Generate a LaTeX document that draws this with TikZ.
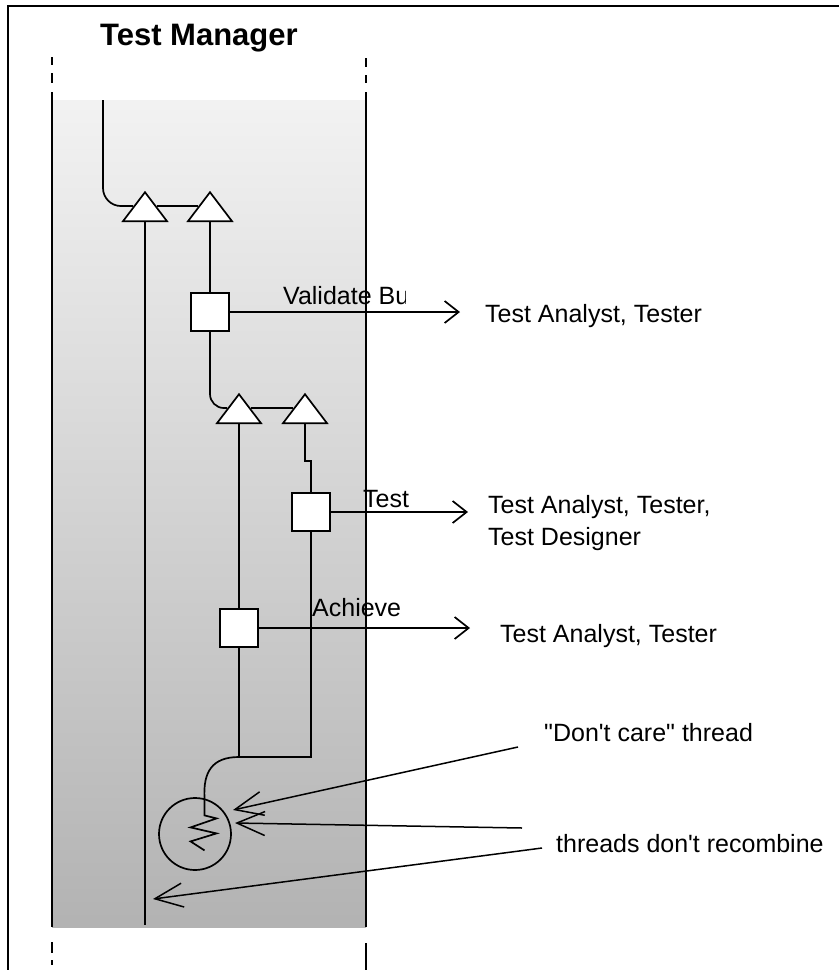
\documentclass[tikz,border=0pt]{standalone}
\usepackage{fontspec}
\setmainfont{Liberation Sans}
\newfontfamily\labfont{Liberation Sans}
\usepackage{tikz}
\usetikzlibrary{shapes.geometric,arrows.meta,calc}
\pgfdeclarelayer{shade}
\pgfdeclarelayer{wires}
\pgfsetlayers{shade,wires,main}
\begin{document}
\begin{tikzpicture}[x=1pt,y=-1pt,
  wire/.style={line width=1.7pt},
  lane/.style={line width=2.4pt},
  tri/.style={draw, fill=white, line width=1.7pt, isosceles triangle,
    isosceles triangle stretches, shape border rotate=90,
    minimum width=44pt, minimum height=29pt, inner sep=0pt, anchor=apex},
  act/.style={draw, fill=white, line width=1.7pt, minimum size=38pt, inner sep=0pt},
  lbl/.style={font=\labfont\fontsize{25}{32}\selectfont, inner sep=0pt, anchor=base west, align=left},
  barr/.style={wire, -{Straight Barb[length=14pt,width=22pt]}},
  carr/.style={line width=1.5pt, -{Straight Barb[length=28pt,width=24pt]}},
]
\useasboundingbox (0,0) rectangle (839,970);
% frame
\draw[line width=1.6pt] (839,6) -- (8,6) -- (8,970);
% lane shading
\begin{pgfonlayer}{shade}
\shade[top color=black!5, bottom color=black!30] (52,100) rectangle (366,927);
\end{pgfonlayer}
% lane borders
\draw[lane] (52,57)--(52,65) (52,73)--(52,83) (52,92)--(52,927) (52,942)--(52,953) (52,960)--(52,965);
\draw[lane] (366,58)--(366,67) (366,75)--(366,83) (366,92)--(366,927) (366,943)--(366,970);

\node[font=\labfont\fontsize{31}{36}\selectfont\bfseries, anchor=base west, inner sep=0pt] (title) at (100,45) {Test Manager};

% synchronisation bars and activities
\node[tri] (t1) at (145,190) {};
\node[tri] (t2) at (210,190) {};
\node[tri] (t3) at (239,392) {};
\node[tri] (t4) at (305,392) {};
\node[act] (b1) at (210,312) {};
\node[act] (b2) at (311,512) {};
\node[act] (b3) at (239,628) {};
\node[draw, circle, line width=1.7pt, minimum size=72pt, inner sep=0pt] (c) at (195,834) {};

\coordinate (start) at (103,100);
\coordinate (J) at (239,757);
\coordinate (endL) at (145,925);

\begin{pgfonlayer}{wires}
\draw[wire, rounded corners=18pt] (start) |- ($(t1.apex)!0.5!(t1.left corner)$);
\draw[wire] ($(t1.apex)!0.5!(t1.right corner)$) -- ($(t2.apex)!0.5!(t2.left corner)$);
\draw[wire] (t1.lower side) -- (endL);
\draw[wire] (t2.lower side) -- (b1.north);
\draw[wire, rounded corners=14pt] (b1.south) |- ($(t3.apex)!0.5!(t3.left corner)$);
\draw[wire] ($(t3.apex)!0.5!(t3.right corner)$) -- ($(t4.apex)!0.5!(t4.left corner)$);
\draw[wire] (t3.lower side) -- (b3.north);
\draw[wire] (t4.lower side) -- ++(0,37) -| (b2.north);
\draw[wire] (b3.south) -- (J);
\draw[wire] (b2.south) |- (J);
\draw[wire] (J) .. controls (212,757) and (203,772) .. (c.75) -- ++(0,17) -- ++(12,3)
  -- ++(-26,9) -- ++(26,6) -- ++(-26,8) -- ++(14,9);
\end{pgfonlayer}

% labels
\begin{scope}
\clip (270,270) rectangle (405,330);
\node[lbl] (vb) at (283,304) {Validate Bu};
\end{scope}
\node[lbl] (tl) at (363,507) {Test};
\node[lbl] (al) at (312,616) {Achieve};
\node[lbl] (r1) at (485,322) {Test Analyst, Tester};
\node[lbl, anchor=north west] (r2) at (488,495) {Test Analyst, Tester,\\Test Designer};
\node[lbl] (r3) at (500,642) {Test Analyst, Tester};
\node[lbl] (dc) at (544,741) {"Don't care" thread};
\node[lbl] (tr) at (556,852) {threads don't recombine};

\draw[barr] (b1.east) -- ($(b1.east -| r1.west)+(-25,0)$);
\draw[barr] (b2.east) -- ($(b2.east -| r2.west)+(-20,0)$);
\draw[barr] (b3.east) -- ($(b3.east -| r3.west)+(-30,0)$);

% callouts
\coordinate (p1) at (518,747);
\coordinate (q1) at (233,810);
\coordinate (p2) at (522,828);
\coordinate (q2) at (235,823);
\coordinate (p3) at (542,848);
\coordinate (q3) at (153,899);
\draw[carr] (p1) -- (q1);
\draw[carr] (p2) -- (q2);
\draw[carr] (p3) -- (q3);
\end{tikzpicture}
\end{document}
